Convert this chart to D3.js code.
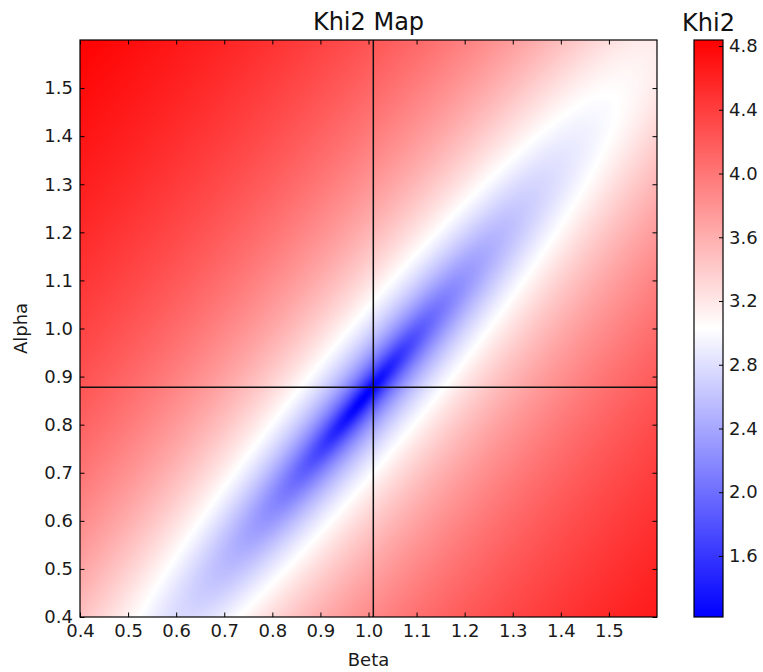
<!DOCTYPE html>
<html>
<head>
<meta charset="utf-8">
<script src="https://cdn.jsdelivr.net/npm/d3@7"></script>
<style>
  html, body { margin: 0; background: #ffffff; }
  svg { display: block; font-family: "DejaVu Sans", "Liberation Sans", sans-serif; }
</style>
</head>
<body>
<svg id="chart" width="763" height="672"></svg>
<script>
// Grid axes of the Khi2 scan
const betaValues  = [0.4, 0.5, 0.6, 0.7, 0.8, 0.9, 1.0, 1.1, 1.2, 1.3, 1.4, 1.5, 1.6];
const alphaValues = [0.4, 0.5, 0.6, 0.7, 0.8, 0.9, 1.0, 1.1, 1.2, 1.3, 1.4, 1.5, 1.6];

// Khi2 (as shown on the colour bar), one row per alpha value, columns follow betaValues
const khi2Row040 = [3.471, 3.117, 2.776, 2.915, 3.298, 3.611, 3.853, 4.045, 4.205, 4.340, 4.457, 4.561, 4.654];
const khi2Row050 = [3.676, 3.369, 2.943, 2.547, 2.884, 3.325, 3.644, 3.883, 4.072, 4.228, 4.361, 4.476, 4.578];
const khi2Row060 = [3.856, 3.605, 3.258, 2.729, 2.297, 2.902, 3.369, 3.682, 3.915, 4.100, 4.252, 4.382, 4.495];
const khi2Row070 = [4.011, 3.804, 3.531, 3.138, 2.454, 2.128, 2.965, 3.423, 3.725, 3.950, 4.129, 4.277, 4.404];
const khi2Row080 = [4.146, 3.971, 3.751, 3.457, 3.010, 2.092, 2.208, 3.056, 3.484, 3.771, 3.986, 4.159, 4.303];
const khi2Row090 = [4.265, 4.114, 3.931, 3.700, 3.383, 2.885, 1.729, 2.445, 3.159, 3.549, 3.818, 4.024, 4.190];
const khi2Row100 = [4.370, 4.238, 4.082, 3.892, 3.650, 3.314, 2.778, 1.869, 2.687, 3.264, 3.616, 3.866, 4.061];
const khi2Row110 = [4.465, 4.347, 4.212, 4.051, 3.855, 3.603, 3.255, 2.718, 2.267, 2.895, 3.366, 3.681, 3.915];
const khi2Row120 = [4.550, 4.445, 4.325, 4.186, 4.022, 3.820, 3.562, 3.211, 2.729, 2.587, 3.070, 3.462, 3.742];
const khi2Row130 = [4.629, 4.533, 4.426, 4.303, 4.162, 3.994, 3.789, 3.529, 3.188, 2.807, 2.831, 3.218, 3.552];
const khi2Row140 = [4.700, 4.613, 4.516, 4.407, 4.283, 4.139, 3.969, 3.763, 3.505, 3.190, 2.922, 3.025, 3.347];
const khi2Row150 = [4.767, 4.686, 4.598, 4.500, 4.389, 4.263, 4.118, 3.947, 3.741, 3.493, 3.216, 3.049, 3.186];
const khi2Row160 = [4.829, 4.754, 4.673, 4.583, 4.484, 4.372, 4.245, 4.099, 3.928, 3.726, 3.493, 3.263, 3.175];
const khi2Rows = [khi2Row040, khi2Row050, khi2Row060, khi2Row070, khi2Row080, khi2Row090, khi2Row100,
                  khi2Row110, khi2Row120, khi2Row130, khi2Row140, khi2Row150, khi2Row160];

// Colour limits of the map and the reference point marked by the cross-hair
const khi2Limits = [1.217, 4.838];
const bestBeta  = 1.01;
const bestAlpha = 0.878;

// Tick values
const betaTicks  = [0.4, 0.5, 0.6, 0.7, 0.8, 0.9, 1.0, 1.1, 1.2, 1.3, 1.4, 1.5];
const alphaTicks = [0.4, 0.5, 0.6, 0.7, 0.8, 0.9, 1.0, 1.1, 1.2, 1.3, 1.4, 1.5];
const khi2Ticks  = [1.6, 2.0, 2.4, 2.8, 3.2, 3.6, 4.0, 4.4, 4.8];

// ---------------------------------------------------------------- layout
const svg = d3.select("#chart");
const pLeft = 80, pRight = 657, pTop = 40, pBottom = 617;
const cbLeft = 694, cbRight = 723;
const fmt = d3.format(".1f");

const x = d3.scaleLinear().domain(d3.extent(betaValues)).range([pLeft, pRight]);
const y = d3.scaleLinear().domain(d3.extent(alphaValues)).range([pBottom, pTop]);

const midKhi2 = (khi2Limits[0] + khi2Limits[1]) / 2;
const color = d3.scaleLinear()
  .domain([khi2Limits[0], midKhi2, khi2Limits[1]])
  .range(["#0000ff", "#ffffff", "#ff0000"])
  .clamp(true);

// ---------------------------------------------------------------- heat map raster
// Cells are smoothed with a bicubic (Catmull-Rom) kernel applied to 10^khi2,
// then mapped back through log10 before colouring.
(function drawField() {
  const nB = betaValues.length, nA = alphaValues.length;
  const E = Array.from({ length: nA + 2 }, () => new Float64Array(nB + 2));
  for (let j = 0; j < nA; j++)
    for (let i = 0; i < nB; i++) E[j + 1][i + 1] = Math.pow(10, khi2Rows[j][i]);
  for (let j = 1; j <= nA; j++) {
    E[j][0] = 3 * E[j][1] - 3 * E[j][2] + E[j][3];
    E[j][nB + 1] = 3 * E[j][nB] - 3 * E[j][nB - 1] + E[j][nB - 2];
  }
  for (let i = 0; i < nB + 2; i++) {
    E[0][i] = 3 * E[1][i] - 3 * E[2][i] + E[3][i];
    E[nA + 1][i] = 3 * E[nA][i] - 3 * E[nA - 1][i] + E[nA - 2][i];
  }
  const weights = t => {
    const t2 = t * t, t3 = t2 * t;
    return [(-t3 + 2 * t2 - t) / 2, (3 * t3 - 5 * t2 + 2) / 2, (-3 * t3 + 4 * t2 + t) / 2, (t3 - t2) / 2];
  };
  const locate = (v, arr) => {
    const n = arr.length, step = arr[1] - arr[0];
    let g = (v - arr[0]) / step;
    g = Math.max(0, Math.min(n - 1, g));
    const k = Math.min(Math.floor(g), n - 2);
    return { k, w: weights(g - k) };
  };

  const W = pRight - pLeft, H = pBottom - pTop;
  const canvas = document.createElement("canvas");
  canvas.width = W; canvas.height = H;
  const ctx = canvas.getContext("2d");
  const img = ctx.createImageData(W, H);

  const LUT_N = 2048, lut = new Uint8Array(LUT_N * 3);
  for (let k = 0; k < LUT_N; k++) {
    const c = d3.rgb(color(khi2Limits[0] + (khi2Limits[1] - khi2Limits[0]) * k / (LUT_N - 1)));
    lut[3 * k] = c.r; lut[3 * k + 1] = c.g; lut[3 * k + 2] = c.b;
  }

  const cols = [];
  for (let px = 0; px < W; px++) cols.push(locate(x.invert(pLeft + px + 0.5), betaValues));

  for (let py = 0; py < H; py++) {
    const ra = locate(y.invert(pTop + py + 0.5), alphaValues);
    for (let px = 0; px < W; px++) {
      const cb = cols[px];
      let q = 0;
      for (let m = 0; m < 4; m++) {
        const row = E[ra.k + m];
        const s = cb.w[0] * row[cb.k] + cb.w[1] * row[cb.k + 1] + cb.w[2] * row[cb.k + 2] + cb.w[3] * row[cb.k + 3];
        q += ra.w[m] * s;
      }
      const v = Math.log10(Math.max(q, 1e-3));
      let k = Math.round((v - khi2Limits[0]) / (khi2Limits[1] - khi2Limits[0]) * (LUT_N - 1));
      k = Math.max(0, Math.min(LUT_N - 1, k));
      const o = 4 * (py * W + px);
      img.data[o] = lut[3 * k]; img.data[o + 1] = lut[3 * k + 1]; img.data[o + 2] = lut[3 * k + 2]; img.data[o + 3] = 255;
    }
  }
  ctx.putImageData(img, 0, 0);
  svg.append("image")
    .attr("x", pLeft).attr("y", pTop).attr("width", W).attr("height", H)
    .attr("preserveAspectRatio", "none")
    .attr("href", canvas.toDataURL());
})();

// ---------------------------------------------------------------- cross-hair
svg.append("line")
  .attr("x1", x(bestBeta)).attr("x2", x(bestBeta)).attr("y1", pTop).attr("y2", pBottom)
  .attr("stroke", "#111").attr("stroke-width", 1.5);
svg.append("line")
  .attr("x1", pLeft).attr("x2", pRight).attr("y1", y(bestAlpha)).attr("y2", y(bestAlpha))
  .attr("stroke", "#111").attr("stroke-width", 1.5);

// ---------------------------------------------------------------- axes
const tickLen = 4.5;
function styleAxis(g) {
  g.select(".domain").remove();
  g.selectAll(".tick line").attr("stroke", "#000").attr("stroke-width", 1);
  g.selectAll(".tick text").attr("fill", "#1a1a1a").attr("font-size", "18px")
    .attr("font-family", "DejaVu Sans, sans-serif");
}
svg.append("g").attr("transform", `translate(0,${pBottom})`)
  .call(d3.axisBottom(x).tickValues(betaTicks).tickFormat(fmt).tickSizeInner(-tickLen).tickSizeOuter(0).tickPadding(7))
  .call(styleAxis);
svg.append("g").attr("transform", `translate(0,${pTop})`)
  .call(d3.axisTop(x).tickValues(betaTicks).tickFormat("").tickSizeInner(-tickLen).tickSizeOuter(0))
  .call(styleAxis);
svg.append("g").attr("transform", `translate(${pLeft},0)`)
  .call(d3.axisLeft(y).tickValues(alphaTicks).tickFormat(fmt).tickSizeInner(-tickLen).tickSizeOuter(0).tickPadding(7))
  .call(styleAxis);
svg.append("g").attr("transform", `translate(${pRight},0)`)
  .call(d3.axisRight(y).tickValues(alphaTicks).tickFormat("").tickSizeInner(-tickLen).tickSizeOuter(0))
  .call(styleAxis);

svg.append("rect")
  .attr("x", pLeft).attr("y", pTop).attr("width", pRight - pLeft).attr("height", pBottom - pTop)
  .attr("fill", "none").attr("stroke", "#000").attr("stroke-width", 1.2);

// ---------------------------------------------------------------- titles
svg.append("text").attr("x", (pLeft + pRight) / 2).attr("y", 30)
  .attr("text-anchor", "middle").attr("font-size", "24px").attr("fill", "#111").text("Khi2 Map");
svg.append("text").attr("x", (pLeft + pRight) / 2).attr("y", 666)
  .attr("text-anchor", "middle").attr("font-size", "18px").attr("fill", "#1a1a1a").text("Beta");
svg.append("text").attr("transform", `translate(27,${(pTop + pBottom) / 2}) rotate(-90)`)
  .attr("text-anchor", "middle").attr("font-size", "18px").attr("fill", "#1a1a1a").text("Alpha");

// ---------------------------------------------------------------- colour bar
const cScale = d3.scaleLinear().domain(khi2Limits).range([pBottom, pTop]);
const grad = svg.append("defs").append("linearGradient")
  .attr("id", "khi2-grad").attr("x1", 0).attr("y1", 1).attr("x2", 0).attr("y2", 0);
color.domain().forEach(v => {
  grad.append("stop")
    .attr("offset", (v - khi2Limits[0]) / (khi2Limits[1] - khi2Limits[0]))
    .attr("stop-color", color(v));
});
svg.append("rect")
  .attr("x", cbLeft).attr("y", cScale(khi2Limits[1]))
  .attr("width", cbRight - cbLeft).attr("height", cScale(khi2Limits[0]) - cScale(khi2Limits[1]))
  .attr("fill", "url(#khi2-grad)").attr("stroke", "#000").attr("stroke-width", 1.2);
svg.append("g").attr("transform", `translate(${cbRight},0)`)
  .call(d3.axisRight(cScale).tickValues(khi2Ticks).tickFormat(fmt).tickSizeInner(-4).tickSizeOuter(0).tickPadding(6))
  .call(styleAxis);
svg.append("text").attr("x", (cbLeft + cbRight) / 2).attr("y", 31)
  .attr("text-anchor", "middle").attr("font-size", "24px").attr("fill", "#111").text("Khi2");
</script>
</body>
</html>
